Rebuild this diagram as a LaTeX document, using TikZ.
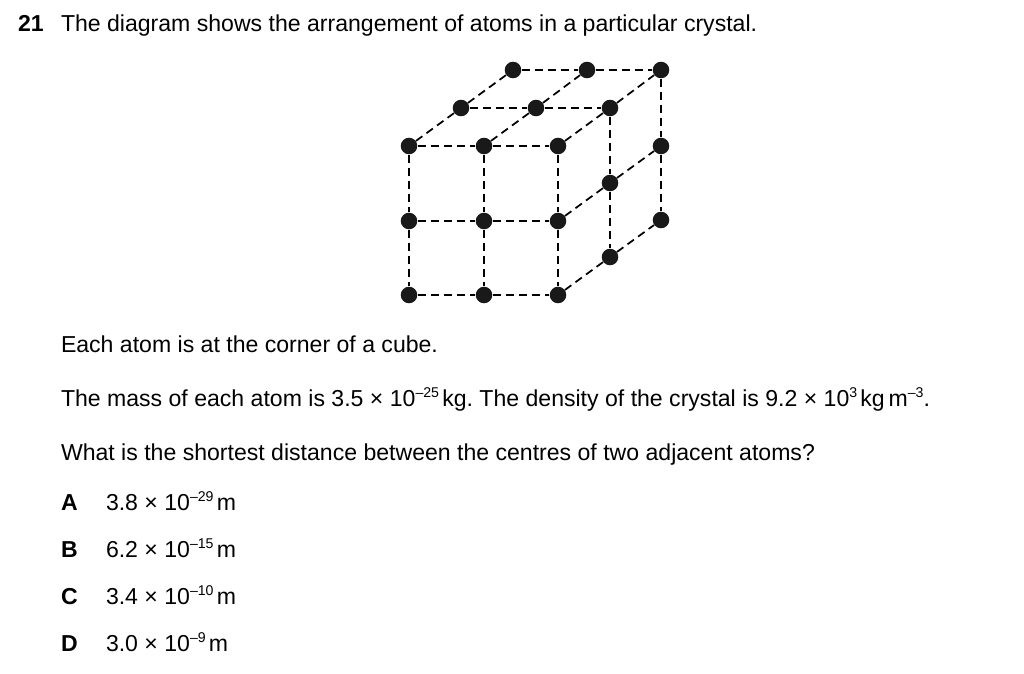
\documentclass[tikz,border=0pt]{standalone}
\usepackage{fontspec}
\setmainfont{Liberation Sans}
\usetikzlibrary{positioning}
\newcommand{\powr}[1]{\raisebox{0.39em}{\fontsize{10.6pt}{12pt}\selectfont #1}\kern2.4pt}
\begin{document}
\frenchspacing
\begin{tikzpicture}[
    x=0.75pt,
    y=-0.75pt,
    font=\fontsize{17.3pt}{20pt}\selectfont
]
\tikzset{
    atom/.style = {circle, draw=none, fill=black!90, minimum size=12.4pt, inner sep=0pt},
    edged/.style = {line width=1.3pt, dash pattern=on 6pt off 3.8pt},
    txt/.style = {anchor=base west, inner sep=0pt, outer sep=0pt},
    txtb/.style = {txt, font=\fontsize{17.3pt}{20pt}\selectfont\bfseries}
}
\useasboundingbox (0,0) rectangle (1024,674);
% front face
\node[atom] at (409,146) (fa) {};
\node[atom] at (484,146) (fb) {};
\node[atom] at (558,146) (fc) {};
\node[atom] at (409,221) (fd) {};
\node[atom] at (484,221) (fe) {};
\node[atom] at (558,221) (ff) {};
\node[atom] at (409,295) (fg) {};
\node[atom] at (484,295) (fh) {};
\node[atom] at (558,295) (fi) {};
% middle layer
\node[atom] at (461,108) (ma) {};
\node[atom] at (536,108) (mb) {};
\node[atom] at (610,108) (mc) {};
\node[atom] at (610,183) (mf) {};
\node[atom] at (610,257) (mi) {};
% back layer
\node[atom] at (513,70) (ba) {};
\node[atom] at (587,70) (bb) {};
\node[atom] at (661,70) (bc) {};
\node[atom] at (661,146) (bf) {};
\node[atom] at (661,220) (bi) {};
% horizontal
\draw[edged] (fa) edge (fb);
\draw[edged] (fb) edge (fc);
\draw[edged] (fd) edge (fe);
\draw[edged] (fe) edge (ff);
\draw[edged] (fg) edge (fh);
\draw[edged] (fh) edge (fi);
\draw[edged] (ma) edge (mb);
\draw[edged] (mb) edge (mc);
\draw[edged] (ba) edge (bb);
\draw[edged] (bb) edge (bc);
% vertical
\draw[edged] (fa) edge (fd);
\draw[edged] (fd) edge (fg);
\draw[edged] (fb) edge (fe);
\draw[edged] (fe) edge (fh);
\draw[edged] (fc) edge (ff);
\draw[edged] (ff) edge (fi);
\draw[edged] (mc) edge (mf);
\draw[edged] (mf) edge (mi);
\draw[edged] (bc) edge (bf);
\draw[edged] (bf) edge (bi);
% depth
\draw[edged] (fa) edge (ma);
\draw[edged] (ma) edge (ba);
\draw[edged] (fb) edge (mb);
\draw[edged] (mb) edge (bb);
\draw[edged] (fc) edge (mc);
\draw[edged] (mc) edge (bc);
\draw[edged] (ff) edge (mf);
\draw[edged] (mf) edge (bf);
\draw[edged] (fi) edge (mi);
\draw[edged] (mi) edge (bi);
% text
\node[txtb] at (18,32) (qnum) {21};
\node[txt] at (61,32) (qline) {The diagram shows the arrangement of atoms in a particular crystal.};
\node[txt] at (61,352) (cube) {Each atom is at the corner of a cube.};
\node[txt] at (61,406) (mass) {The mass of each atom is 3.5 × 10\powr{–25}kg. The density of the crystal is 9.2 × 10\powr{3}kg\,m\powr{–3}\kern-2.4pt.};
\node[txt] at (61,460) (ask) {What is the shortest distance between the centres of two adjacent atoms?};
\node[txtb] at (61,510) (la) {A};
\node[txt] at (106,510) (va) {3.8 × 10\powr{–29}m};
\node[txtb] at (61,557) (lb) {B};
\node[txt] at (106,557) (vb) {6.2 × 10\powr{–15}m};
\node[txtb] at (61,604) (lc) {C};
\node[txt] at (106,604) (vc) {3.4 × 10\powr{–10}m};
\node[txtb] at (61,651) (ld) {D};
\node[txt] at (106,651) (vd) {3.0 × 10\powr{–9}m};
\end{tikzpicture}
\end{document}
